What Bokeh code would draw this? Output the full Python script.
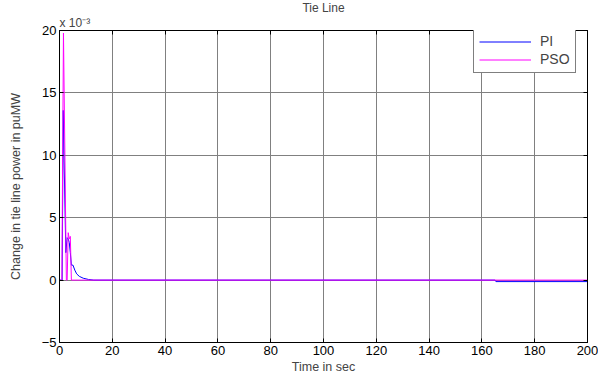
from bokeh.plotting import figure
from bokeh.models import Range1d, LinearAxis, Title, FixedTicker
from bokeh.embed import file_html
from bokeh.resources import INLINE

# Data (values in units of 1e-3 puMW)
pi_t = [0, 1.0, 1.4, 2.4, 2.9, 3.3, 3.7, 4.1, 4.5, 5.1, 5.8, 6.5, 7.5, 9.0, 11.0, 13.0, 20.0, 165.0, 165.3, 200.0]
pi_v = [0, 0, 13.6, 2.2, 3.4, 3.3, 3.0, 2.2, 1.2, 1.2, 0.8, 0.5, 0.3, 0.15, 0.05, 0.0, 0.0, 0.0, -0.12, -0.12]
pso_t = [0, 0.9, 1.5, 2.6, 2.9, 3.3, 3.7, 4.1, 4.5, 200.0]
pso_v = [0, 0, 19.8, 0, 0, 3.8, 3.3, 3.5, 0, 0]

x_ticks = [0, 20, 40, 60, 80, 100, 120, 140, 160, 180, 200]
y_ticks = [-5, 0, 5, 10, 15, 20]
series_names = ["PI", "PSO"]
series_colors = ["#0000ff", "#ff00ff"]

FONT = "Liberation Sans"
FS = "13px"

p = figure(width=598, height=376, output_backend="svg", toolbar_location=None,
           x_range=Range1d(0, 200), y_range=Range1d(-5, 20),
           min_border_left=59, min_border_right=11, min_border_top=0, min_border_bottom=34)
p.background_fill_color = "white"
p.border_fill_color = "white"
p.outline_line_color = "black"
p.outline_line_width = 1

p.title.text = "Tie Line"
p.title.align = "center"
p.title.text_font = FONT
p.title.text_font_size = "12px"
p.title.text_font_style = "normal"
p.title.standoff = -3

def style_axis(ax, labels=True):
    ax.axis_line_color = "black"
    ax.axis_line_width = 1
    ax.major_tick_in = 4
    ax.major_tick_out = 0
    ax.minor_tick_in = 0
    ax.minor_tick_out = 0
    ax.major_tick_line_color = "black"
    ax.major_label_text_font = FONT
    ax.major_label_text_font_size = FS
    ax.major_label_text_color = "black"
    ax.axis_label_text_font = FONT
    ax.axis_label_text_font_size = "12.5px"
    ax.axis_label_text_font_style = "normal"
    ax.major_label_standoff = 3

for ax in p.xaxis:
    ax.ticker = FixedTicker(ticks=x_ticks)
    ax.axis_label = "Time in sec"
    ax.axis_label_standoff = 2
    style_axis(ax)
for ax in p.yaxis:
    ax.ticker = FixedTicker(ticks=y_ticks)
    ax.axis_label = "Change in tie line power in puMW"
    ax.axis_label_standoff = 16
    style_axis(ax)

top = LinearAxis(ticker=FixedTicker(ticks=x_ticks))
style_axis(top, labels=False)
top.major_label_overrides = {t: "" for t in x_ticks}
top.major_label_standoff = 0
p.add_layout(top, "above")

mult = Title(text="x 10\u207B\u00B3", align="left", offset=0, standoff=1,
             text_font=FONT, text_font_size="12px", text_font_style="normal")
p.add_layout(mult, "above")

right = LinearAxis(ticker=FixedTicker(ticks=y_ticks))
style_axis(right, labels=False)
right.major_label_overrides = {t: "" for t in y_ticks}
right.major_label_standoff = 0
p.add_layout(right, "right")

p.xgrid.ticker = FixedTicker(ticks=x_ticks)
p.ygrid.ticker = FixedTicker(ticks=y_ticks)
for g in (p.xgrid[0], p.ygrid[0]):
    g.grid_line_color = "#808080"
    g.grid_line_width = 1

p.line(pi_t, pi_v, line_color=series_colors[0], line_width=1, legend_label=series_names[0])
p.line(pso_t, pso_v, line_color=series_colors[1], line_width=1, legend_label=series_names[1])

lg = p.legend[0]
lg.location = (414, 269)
lg.margin = 0
lg.padding = 5
lg.spacing = 2
lg.glyph_width = 52
lg.glyph_height = 13
lg.label_height = 13
lg.label_standoff = 9
lg.label_text_font = FONT
lg.label_text_font_size = "14px"
lg.border_line_color = "black"
lg.border_line_width = 1
lg.background_fill_alpha = 1.0

open("out.html", "w").write(file_html(p, INLINE))
